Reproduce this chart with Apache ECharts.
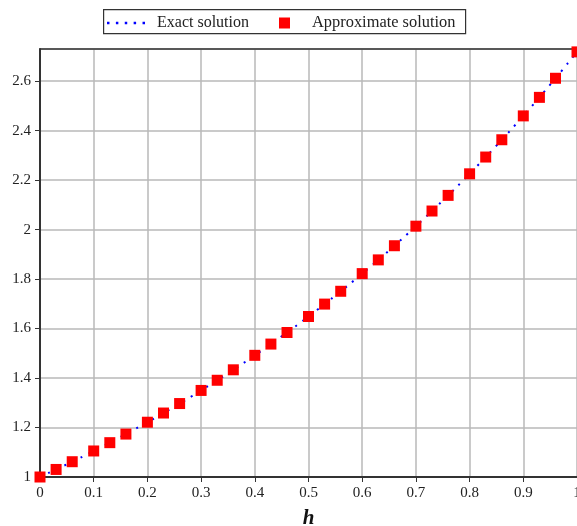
<!DOCTYPE html>
<html><head><meta charset="utf-8">
<script src="https://cdn.jsdelivr.net/npm/echarts@6/dist/echarts.min.js"></script>
<style>html,body{margin:0;padding:0;background:#fff;overflow:hidden}#c{width:577px;height:526px}</style>
</head><body><div id="c"></div>
<script>
// Approximate solution (markers)
const approxX = [0,0.03,0.06,0.1,0.13,0.16,0.2,0.23,0.26,0.3,0.33,0.36,0.4,0.43,0.46,0.5,0.53,0.56,0.6,0.63,0.66,0.7,0.73,0.76,0.8,0.83,0.86,0.9,0.93,0.96,1];
const approxY = [1,1.0305,1.0618,1.1052,1.1388,1.1735,1.2214,1.2586,1.2969,1.3499,1.3910,1.4333,1.4918,1.5373,1.5841,1.6487,1.6989,1.7507,1.8221,1.8776,1.9348,2.0138,2.0751,2.1383,2.2255,2.2933,2.3632,2.4596,2.5345,2.6117,2.7183];
// Exact solution (dotted line)
const exactX = [0,0.05,0.1,0.15,0.2,0.25,0.3,0.35,0.4,0.45,0.5,0.55,0.6,0.65,0.7,0.75,0.8,0.85,0.9,0.95,1];
const exactY = [1,1.0513,1.1052,1.1618,1.2214,1.2840,1.3499,1.4191,1.4918,1.5683,1.6487,1.7333,1.8221,1.9155,2.0138,2.1170,2.2255,2.3396,2.4596,2.5857,2.7183];
const seriesNames = ['Exact solution','Approximate solution'];
const xAxisName = 'h';

const serif = '"Liberation Serif","DejaVu Serif",serif';
const dotsIcon = 'path://M0,0h2.5v2.5h-2.5z M9,0h2.5v2.5h-2.5z M18,0h2.5v2.5h-2.5z M27,0h2.5v2.5h-2.5z M36,0h2.5v2.5h-2.5z';
const chart = echarts.init(document.getElementById('c'), null, {renderer:'canvas'});
chart.setOption({
  animation:false,
  backgroundColor:'#fff',
  graphic:[{type:'rect',left:103,top:9,shape:{width:362,height:24},style:{fill:'#fff',stroke:'#333',lineWidth:1.2},z:-1}],
  legend:[
    {data:[{name:seriesNames[0],icon:dotsIcon}],left:107,top:15,itemWidth:38,itemHeight:2.5,padding:0,
     textStyle:{fontFamily:serif,fontSize:16,color:'#222',padding:[0,0,0,7]}},
    {data:[{name:seriesNames[1],icon:'rect'}],left:279,top:15,itemWidth:11,itemHeight:11,padding:0,
     itemStyle:{opacity:1},
     textStyle:{fontFamily:serif,fontSize:16.4,color:'#222',padding:[0,0,0,17]}}
  ],
  grid:{left:40,right:0,top:49,bottom:49,containLabel:false,outerBoundsMode:'none'},
  xAxis:[{
    type:'value',min:0,max:1,interval:0.1,
    name:xAxisName,nameLocation:'middle',nameGap:31,
    nameTextStyle:{fontFamily:serif,fontSize:21,fontWeight:'bold',fontStyle:'italic',color:'#111'},
    axisLine:{show:true,lineStyle:{color:'#333',width:2}},
    axisTick:{show:true,length:5,lineStyle:{color:'#333',width:1}},
    axisLabel:{fontFamily:serif,fontSize:15,color:'#222',margin:9},
    splitLine:{show:true,lineStyle:{color:'#b8b8b8',width:1.5}}
  },{
    type:'value',min:0,max:1,position:'top',
    axisLine:{show:true,lineStyle:{color:'#333',width:1.5}},
    axisTick:{show:false},axisLabel:{show:false},splitLine:{show:false}
  }],
  yAxis:{
    type:'value',min:1,max:2.73,interval:0.2,
    axisLine:{show:true,lineStyle:{color:'#333',width:2}},
    axisTick:{show:true,length:5,lineStyle:{color:'#333',width:1}},
    axisLabel:{fontFamily:serif,fontSize:15,color:'#222',margin:9,showMaxLabel:false,
      formatter:v=>(v>2.7?'':String(Math.round(v*10)/10))},
    splitLine:{show:true,lineStyle:{color:'#b8b8b8',width:1.5}}
  },
  series:[
    {name:seriesNames[0],type:'line',data:exactX.map((x,i)=>[x,exactY[i]]),
     showSymbol:false,symbol:'none',smooth:true,
     itemStyle:{color:'#0000ff'},
     lineStyle:{color:'#0000ff',width:2,type:[2,7]},z:2},
    {name:seriesNames[1],type:'scatter',data:approxX.map((x,i)=>[x,approxY[i]]),
     symbol:'rect',symbolSize:11,itemStyle:{color:'#ff0000',opacity:1},z:3}
  ]
});
</script></body></html>
